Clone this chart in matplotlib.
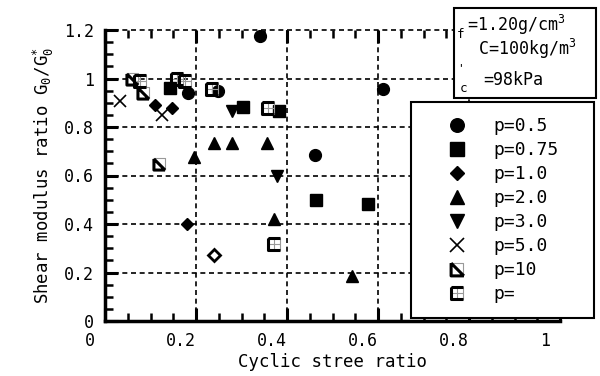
import numpy as np
import matplotlib
matplotlib.use("Agg")
import matplotlib.pyplot as plt
from matplotlib.path import Path
from matplotlib.patches import Rectangle
from matplotlib.transforms import ScaledTranslation
from matplotlib.legend_handler import HandlerTuple

plt.rcParams['font.family'] = ['DejaVu Sans Mono']
plt.rcParams['mathtext.default'] = 'regular'

# data
x_p05 = [0.182, 0.248, 0.341, 0.462, 0.611]
y_p05 = [0.942, 0.950, 1.177, 0.683, 0.955]
x_p075 = [0.143, 0.303, 0.382, 0.464, 0.578]
y_p075 = [0.959, 0.881, 0.868, 0.498, 0.481]
x_p1 = [0.110, 0.147, 0.180]
y_p1 = [0.889, 0.877, 0.399]
x_p1_open = [0.240]
y_p1_open = [0.272]
x_p2 = [0.196, 0.240, 0.279, 0.356, 0.371, 0.543]
y_p2 = [0.675, 0.733, 0.733, 0.733, 0.420, 0.185]
x_p3 = [0.279, 0.378]
y_p3 = [0.868, 0.597]
x_p5 = [0.033, 0.125]
y_p5 = [0.909, 0.850]
x_p10 = [0.059, 0.084, 0.119]
y_p10 = [1.000, 0.940, 0.646]
x_pinf = [0.077, 0.158, 0.176, 0.235, 0.358, 0.371]
y_pinf = [0.990, 1.000, 0.990, 0.955, 0.877, 0.317]

labels = ["p=0.5", "p=0.75", "p=1.0", "p=2.0", "p=3.0", "p=5.0", "p=10", "p="]
xticks = [0, 0.2, 0.4, 0.6, 0.8, 1.0]
xtick_labels = ["0", "0.2", "0.4", "0.6", "0.8", "1"]
yticks = [0, 0.2, 0.4, 0.6, 0.8, 1.0, 1.2]
ytick_labels = ["0", "0.2", "0.4", "0.6", "0.8", "1", "1.2"]

M, L = Path.MOVETO, Path.LINETO
# square with diagonal: black L + diagonal, grey top/right
p10_black = Path([(-1, 1), (-1, -1), (1, -1), (-1, 1), (1, -1)], [M, L, L, M, L])
p10_grey = Path([(-1, 1), (1, 1), (1, -1)], [M, L, L])
# square with cross
pinf_black = Path([(-1, 1), (-1, -1), (1, -1), (-1, 1), (1, 1)], [M, L, L, M, L])
pinf_grey = Path([(-1, 1), (1, 1), (1, -1), (-1, -1), (-1, 1),
                  (-1, 0), (1, 0), (0, 1), (0, -1)],
                 [M, L, L, L, L, M, L, M, L])

fig = plt.figure(figsize=(6, 3.76), dpi=100)
ax = fig.add_axes([105/600, 1-321/376, 455/600, 291/376])

ax.set_xlim(0, 1.0)
ax.set_ylim(0, 1.2)

grid_ls = (0, (3, 2.2))
for v in [0.2, 0.4, 0.6, 0.8]:
    ax.axvline(v, color='k', lw=1.2, ls=grid_ls, zorder=1)
for v in [0.2, 0.4, 0.6, 0.8, 1.0, 1.2]:
    ax.axhline(v, color='k', lw=1.2, ls=grid_ls, zorder=1, clip_on=False)

kw = dict(ls='none', color='k', zorder=3)
h05, = ax.plot(x_p05, y_p05, marker='o', ms=8.5, **kw)
h075, = ax.plot(x_p075, y_p075, marker='s', ms=8.5, **kw)
h1, = ax.plot(x_p1, y_p1, marker='D', ms=6.5, **kw)
ax.plot(x_p1_open, y_p1_open, marker='D', ms=6.5, mfc='white', mew=2, **kw)
h2, = ax.plot(x_p2, y_p2, marker='^', ms=9, **kw)
h3, = ax.plot(x_p3, y_p3, marker='v', ms=9, **kw)
h5, = ax.plot(x_p5, y_p5, marker='x', ms=9, mew=1.2, **kw)
ckw = dict(ls='none', ms=8, mfc='none', zorder=3)
h10g, = ax.plot(x_p10, y_p10, marker=p10_grey, mew=0.8, mec='#999999', **ckw)
h10b, = ax.plot(x_p10, y_p10, marker=p10_black, mew=2.2, mec='k', **ckw)
hig, = ax.plot(x_pinf, y_pinf, marker=pinf_grey, mew=0.8, mec='#999999', **ckw)
hib, = ax.plot(x_pinf, y_pinf, marker=pinf_black, mew=2.2, mec='k', **ckw)

for s in ['top', 'right']:
    ax.spines[s].set_visible(False)
for s in ['left', 'bottom']:
    ax.spines[s].set_linewidth(2.5)

ax.set_xticks(xticks)
ax.set_xticklabels(xtick_labels)
ax.set_yticks(yticks)
ax.set_yticklabels(ytick_labels)
ax.set_xticks(np.arange(0, 1.001, 0.05), minor=True)
ax.set_yticks(np.arange(0, 1.201, 0.05), minor=True)
ax.tick_params(which='both', direction='in', top=True, right=False, labelsize=12)
ax.tick_params(which='major', length=9.5, width=2.2, pad=8)
ax.tick_params(which='minor', length=5.5, width=1.8)

offset = ScaledTranslation(-15/100, 0, fig.dpi_scale_trans)
for lbl in ax.get_xticklabels():
    lbl.set_transform(lbl.get_transform() + offset)

ax.set_xlabel("Cyclic stree ratio", fontsize=12.5, labelpad=2)
ax.set_ylabel("Shear modulus ratio G$_{0}$/G$_{0}^{*}$", fontsize=12.5, labelpad=6)

handles = [h05, h075, h1, h2, h3, h5, (h10g, h10b), (hig, hib)]
leg = ax.legend(handles, labels, loc='upper left',
                bbox_to_anchor=(411/600, 1-313/376, 183/600, 211/376),
                bbox_transform=fig.transFigure, mode='expand',
                fontsize=13, frameon=True, fancybox=False, framealpha=1,
                borderpad=0.85, handlelength=3.4, handletextpad=0.3,
                labelspacing=0.33, markerscale=1.15, borderaxespad=0,
                handler_map={tuple: HandlerTuple(ndivide=1)})
leg.get_frame().set_edgecolor('k')
leg.get_frame().set_linewidth(1.5)
leg.set_zorder(5)

# condition box
fig.patches.append(Rectangle((454/600, 1-98/376), 142/600, 90/376,
                             transform=fig.transFigure, facecolor='white',
                             edgecolor='k', lw=1.5, zorder=4))
def ftext(px, py, s, size):
    fig.text(px/600, 1-py/376, s, fontsize=size, ha='left', va='center', zorder=5)

ftext(457, 34, "f", 9)
ftext(467, 25, "=1.20g/cm$^{3}$", 12)
ftext(478, 49, "C=100kg/m$^{3}$", 12)
ftext(457, 68, "'", 8)
ftext(460, 88, "c", 9)
ftext(483, 80, "=98kPa", 12)

fig.savefig("out.png", dpi=100)
